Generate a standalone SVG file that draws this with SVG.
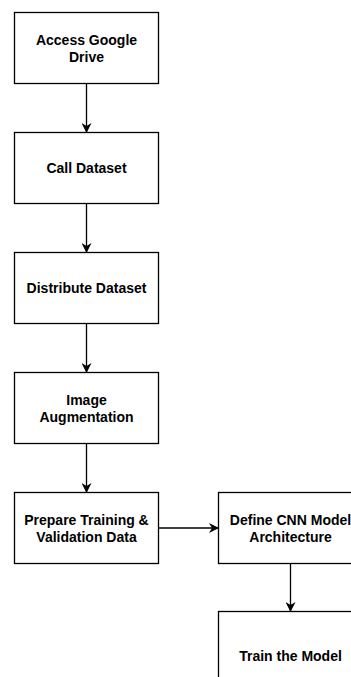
<svg xmlns="http://www.w3.org/2000/svg" width="351" height="677" viewBox="0 0 351 677">
  <defs>
    <style>
      .box { fill: #ffffff; stroke: #000000; stroke-width: 1.3; }
      .lbl { font-family: "Liberation Sans", Arial, sans-serif; font-size: 14px; font-weight: bold; fill: #000000; text-anchor: middle; }
      .edge { fill: none; stroke: #000000; stroke-width: 1.3; }
    </style>
    <marker id="arrow" viewBox="0 0 10 10" refX="9" refY="5" markerWidth="10" markerHeight="10" markerUnits="userSpaceOnUse" orient="auto">
      <path d="M0,0 L10,5 L0,10 L3,5 Z" fill="#000000"/>
    </marker>
  </defs>
  <rect width="351" height="677" fill="#ffffff"/>

  <g id="connectors">
    <line class="edge" x1="86.5" y1="83.5" x2="86.5" y2="132" marker-end="url(#arrow)"/>
    <line class="edge" x1="86.5" y1="203.5" x2="86.5" y2="252" marker-end="url(#arrow)"/>
    <line class="edge" x1="86.5" y1="323.5" x2="86.5" y2="372" marker-end="url(#arrow)"/>
    <line class="edge" x1="86.5" y1="443.5" x2="86.5" y2="492" marker-end="url(#arrow)"/>
    <line class="edge" x1="158.5" y1="528" x2="218" y2="528" marker-end="url(#arrow)"/>
    <line class="edge" x1="290.5" y1="563.5" x2="290.5" y2="611" marker-end="url(#arrow)"/>
  </g>

  <g id="access-drive">
    <rect class="box" x="14.5" y="12.5" width="144" height="71"/>
    <text class="lbl" x="86.5" y="44.5">Access Google</text>
    <text class="lbl" x="86.5" y="61.5">Drive</text>
  </g>

  <g id="call-dataset">
    <rect class="box" x="14.5" y="132.5" width="144" height="71"/>
    <text class="lbl" x="86.5" y="173">Call Dataset</text>
  </g>

  <g id="distribute-dataset">
    <rect class="box" x="14.5" y="252.5" width="144" height="71"/>
    <text class="lbl" x="86.5" y="293">Distribute Dataset</text>
  </g>

  <g id="image-augmentation">
    <rect class="box" x="14.5" y="372.5" width="144" height="71"/>
    <text class="lbl" x="86.5" y="404.5">Image</text>
    <text class="lbl" x="86.5" y="421.5">Augmentation</text>
  </g>

  <g id="prepare-data">
    <rect class="box" x="14.5" y="492.5" width="144" height="71"/>
    <text class="lbl" x="86.5" y="524.5">Prepare Training &amp;</text>
    <text class="lbl" x="86.5" y="541.5">Validation Data</text>
  </g>

  <g id="define-cnn">
    <rect class="box" x="218.5" y="492.5" width="144" height="71"/>
    <text class="lbl" x="290.5" y="524.5">Define CNN Model</text>
    <text class="lbl" x="290.5" y="541.5">Architecture</text>
  </g>

  <g id="train-model">
    <rect class="box" x="218.5" y="611.5" width="144" height="90"/>
    <text class="lbl" x="290.5" y="661">Train the Model</text>
  </g>
</svg>
